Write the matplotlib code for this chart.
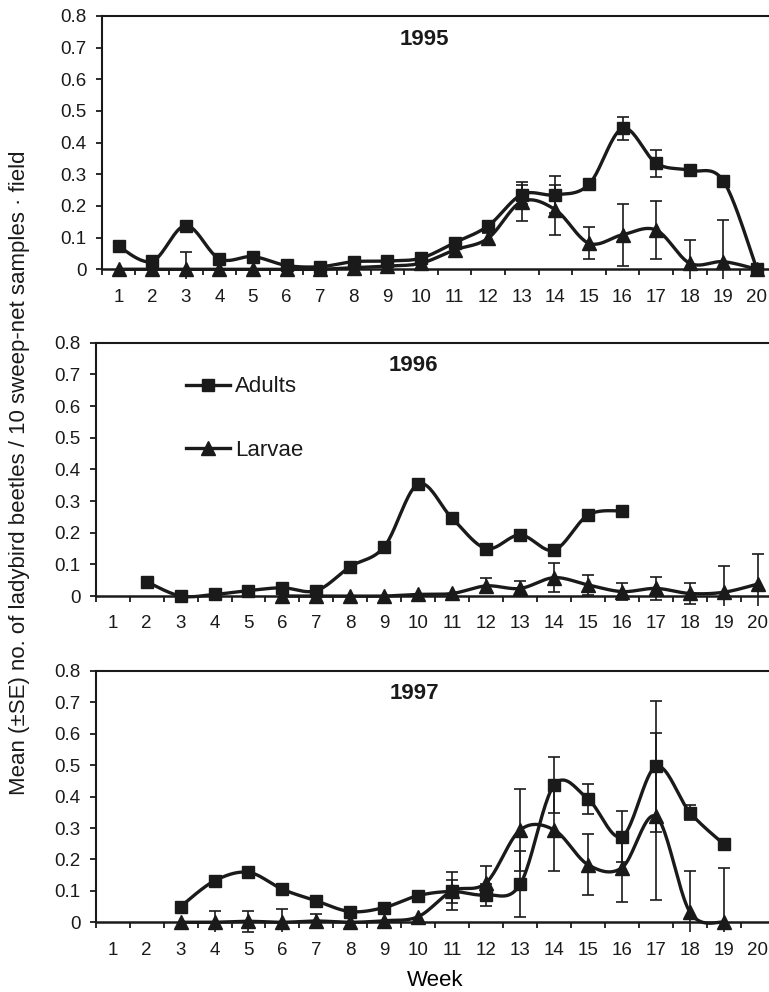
"""Ladybird sweep-net counts, 1995-1997: adults vs larvae per week."""

import numpy as np
import matplotlib as mpl
import matplotlib.pyplot as plt
from matplotlib.lines import Line2D

nan = np.nan

# ──────────────────────────────────────────────────────────────────────
# Data
# ──────────────────────────────────────────────────────────────────────

WEEKS = list(range(1, 21))
YEARS = ["1995", "1996", "1997"]
YTICKS = [0, 0.1, 0.2, 0.3, 0.4, 0.5, 0.6, 0.7, 0.8]
YTICK_LABELS = ["0", "0.1", "0.2", "0.3", "0.4", "0.5", "0.6", "0.7", "0.8"]
SERIES_NAMES = ["Adults", "Larvae"]

adults_1995 = [0.072, 0.025, 0.138, 0.033, 0.040, 0.012, 0.008, 0.024, 0.026, 0.035,
               0.084, 0.137, 0.236, 0.235, 0.268, 0.445, 0.335, 0.312, 0.279, 0.0]
adults_1995_se = [0, 0, 0, 0, 0, 0, 0, 0, 0, 0,
                  0, 0.008, 0.030, 0.058, 0, 0.036, 0.043, 0, 0, 0]
larvae_1995 = [0, 0, 0, 0, 0, 0, 0, 0.005, 0.010, 0.019,
               0.061, 0.098, 0.214, 0.188, 0.082, 0.109, 0.124, 0.019, 0.024, 0.0]
larvae_1995_se = [0, 0, 0.054, 0, 0, 0, 0, 0, 0, 0,
                  0, 0.018, 0.063, 0.079, 0.050, 0.098, 0.093, 0.074, 0.130, 0]

adults_1996 = [nan, 0.045, 0.0, 0.005, 0.017, 0.026, 0.017, 0.093, 0.156, 0.354,
               0.245, 0.150, 0.193, 0.145, 0.256, 0.269, nan, nan, nan, nan]
adults_1996_se = [0] * 20
larvae_1996 = [nan, nan, nan, nan, nan, 0, 0, 0, 0, 0.005,
               0.008, 0.032, 0.024, 0.058, 0.035, 0.014, 0.024, 0.008, 0.012, 0.038]
larvae_1996_se = [0, 0, 0, 0, 0, 0, 0, 0, 0, 0,
                  0, 0.024, 0.024, 0.045, 0.031, 0.028, 0.037, 0.034, 0.083, 0.094]

adults_1997 = [nan, nan, 0.050, 0.132, 0.159, 0.105, 0.068, 0.034, 0.047, 0.085,
               0.098, 0.087, 0.121, 0.437, 0.392, 0.273, 0.496, 0.349, 0.248, nan]
adults_1997_se = [0, 0, 0, 0, 0, 0, 0, 0, 0, 0.012,
                  0.038, 0.035, 0.105, 0.090, 0.048, 0.080, 0.210, 0.025, 0, 0]
larvae_1997 = [nan, nan, 0, 0, 0.003, 0, 0.004, 0, 0.005, 0.018,
               0.100, 0.126, 0.294, 0.294, 0.183, 0.174, 0.337, 0.032, 0.0, nan]
larvae_1997_se = [0, 0, 0, 0.036, 0.033, 0.042, 0.022, 0, 0, 0,
                  0.060, 0.053, 0.130, 0.131, 0.097, 0.108, 0.265, 0.130, 0.172, 0]

PANELS = [
    (adults_1995, adults_1995_se, larvae_1995, larvae_1995_se),
    (adults_1996, adults_1996_se, larvae_1996, larvae_1996_se),
    (adults_1997, adults_1997_se, larvae_1997, larvae_1997_se),
]

YLABEL = "Mean (±SE) no. of ladybird beetles / 10 sweep-net samples · field"
XLABEL = "Week"

# ──────────────────────────────────────────────────────────────────────
# Style
# ──────────────────────────────────────────────────────────────────────

INK = "#1a1a1a"
mpl.rcParams.update({
    "font.family": ["Liberation Sans", "DejaVu Sans"],
    "font.size": 13.5,
    "axes.linewidth": 1.5,
    "axes.edgecolor": INK,
    "text.color": INK,
    "xtick.color": INK,
    "ytick.color": INK,
})

# axes boxes in figure fractions (left, bottom, width, height); each panel
# runs a bit past the right edge of the canvas, as in the source scan
AX_BOXES = [
    (0.1323, 0.7190, 0.8739, 0.2649),
    (0.1244, 0.3896, 0.8833, 0.2649),
    (0.1244, 0.0608, 0.8833, 0.2628),
]
TITLE_POS = [(0.480, 0.912), (0.468, 0.915), (0.470, 0.914)]


def smooth(x, y, n=24):
    """Excel-style smoothed line: Bezier through points, Catmull-Rom handles."""
    x = np.asarray(x, float)
    y = np.asarray(y, float)
    if len(x) < 2:
        return x, y
    px = np.r_[x[0], x, x[-1]]
    py = np.r_[y[0], y, y[-1]]
    t = np.linspace(0, 1, n)
    b0, b1, b2, b3 = (1 - t) ** 3, 3 * t * (1 - t) ** 2, 3 * t ** 2 * (1 - t), t ** 3
    xs, ys = [], []
    for i in range(len(x) - 1):
        p0x, p1x, p2x, p3x = px[i:i + 4]
        p0y, p1y, p2y, p3y = py[i:i + 4]
        c1x, c1y = p1x + (p2x - p0x) / 6, p1y + (p2y - p0y) / 6
        c2x, c2y = p2x - (p3x - p1x) / 6, p2y - (p3y - p1y) / 6
        xs.append(b0 * p1x + b1 * c1x + b2 * c2x + b3 * p2x)
        ys.append(b0 * p1y + b1 * c1y + b2 * c2y + b3 * p2y)
    return np.concatenate(xs), np.concatenate(ys)


def draw_series(ax, values, se, marker, ms):
    w = np.asarray(WEEKS, float)
    v = np.asarray(values, float)
    e = np.asarray(se, float)
    ok = np.isfinite(v)

    # split into contiguous runs so gaps stay gaps
    idx = np.flatnonzero(ok)
    runs = np.split(idx, np.flatnonzero(np.diff(idx) > 1) + 1)
    for r in runs:
        sx, sy = smooth(w[r], v[r])
        ax.plot(sx, sy, color=INK, lw=2.4, zorder=3, solid_capstyle="round")

    has_err = ok & (e > 0)
    ax.errorbar(w[has_err], v[has_err], yerr=e[has_err], fmt="none",
                ecolor=INK, elinewidth=1.2, capsize=4.2, capthick=1.2, zorder=2)
    ax.plot(w[ok], v[ok], ls="none", marker=marker, ms=ms,
            color=INK, mec=INK, zorder=4)


def style_axes(ax):
    ax.set_xlim(0.5, 20.5)
    ax.set_ylim(-0.03, 0.8)
    ax.spines["bottom"].set_position(("data", 0))
    ax.spines["left"].set_bounds(0, 0.8)
    ax.spines["right"].set_visible(False)
    ax.spines["bottom"].set_linewidth(1.8)

    # category axis: ticks between weeks, labels centred on the week
    ax.set_xticks(np.arange(0.5, 21, 1.0))
    ax.set_xticks(WEEKS, [str(wk) for wk in WEEKS], minor=True)
    ax.tick_params(axis="x", which="major", direction="out", length=4,
                   width=1.3, labelbottom=False)
    ax.tick_params(axis="x", which="minor", length=0, pad=14, labelsize=13.5)

    ax.set_yticks(YTICKS, YTICK_LABELS)
    ax.tick_params(axis="y", direction="out", length=4.5, width=1.3,
                   pad=6.5, labelsize=13.5)


def main():
    fig = plt.figure(figsize=(7.69, 9.92), dpi=100)

    axes = []
    for box, year, (ad, ad_se, la, la_se), tpos in zip(AX_BOXES, YEARS, PANELS, TITLE_POS):
        ax = fig.add_axes(box)
        style_axes(ax)
        draw_series(ax, la, la_se, "^", 10.5)
        draw_series(ax, ad, ad_se, "s", 8)
        ax.text(tpos[0], tpos[1], year, transform=ax.transAxes,
                ha="center", va="center", fontsize=16, fontweight="bold")
        axes.append(ax)

    handles = [
        Line2D([], [], color=INK, lw=2.4, marker="s", ms=8),
        Line2D([], [], color=INK, lw=2.4, marker="^", ms=10.5),
    ]
    axes[1].legend(handles, SERIES_NAMES, loc="upper left",
                   bbox_to_anchor=(0.133, 0.872), frameon=False, fontsize=16,
                   handlelength=2.0, handletextpad=0.2, labelspacing=1.93,
                   borderpad=0, borderaxespad=0)

    axes[2].set_xlabel(XLABEL, fontsize=16, labelpad=8)
    fig.text(20 / 769, 1 - 473 / 992, YLABEL, rotation=90,
             ha="center", va="center", fontsize=16)

    fig.savefig("out.png", dpi=100)
    plt.close(fig)


if __name__ == "__main__":
    main()
